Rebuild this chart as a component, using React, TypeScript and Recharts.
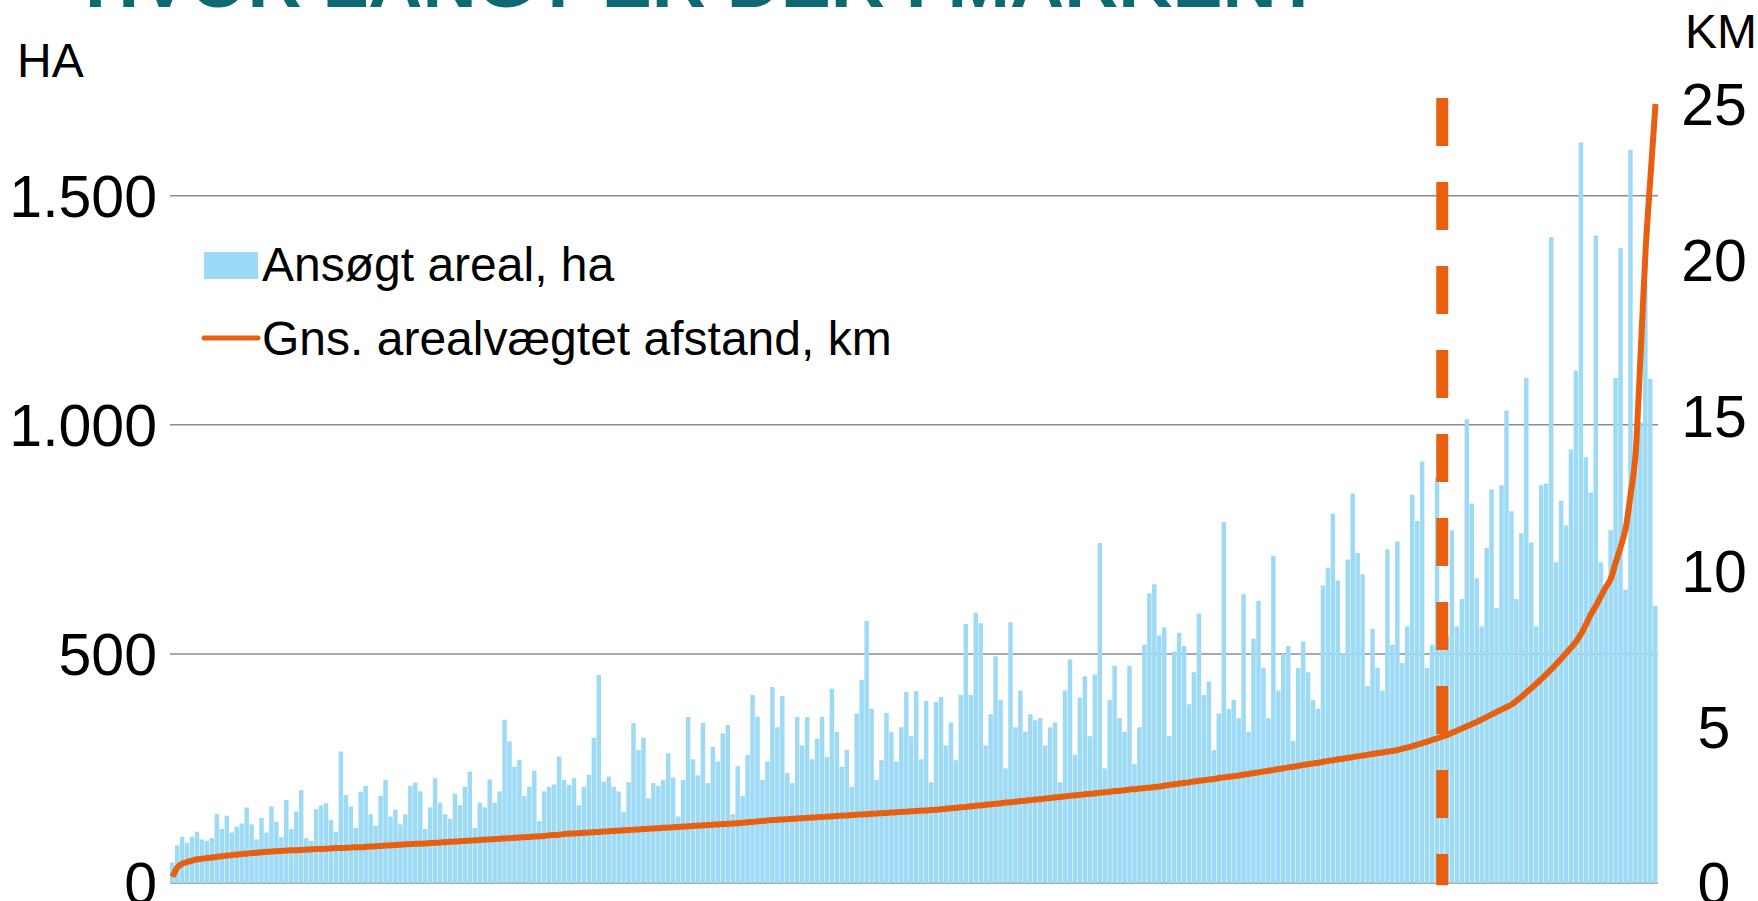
import React from 'react'
import {
  ComposedChart,
  Bar,
  Line,
  XAxis,
  YAxis,
  CartesianGrid,
  ReferenceLine,
  Legend,
} from 'recharts'

// ansøgt areal pr. ansøgning (ha), sorteret efter afstand
const arealHa = [
  45, 82, 101, 88, 101, 112, 95, 92, 98, 151,
  118, 147, 110, 123, 130, 165, 128, 95, 142, 110,
  167, 134, 100, 181, 118, 156, 203, 98, 92, 161,
  169, 174, 138, 112, 287, 192, 167, 120, 199, 212,
  150, 125, 190, 225, 145, 160, 128, 150, 212, 219,
  200, 118, 165, 229, 175, 150, 140, 195, 170, 210,
  243, 120, 175, 165, 226, 175, 200, 356, 309, 254,
  269, 190, 210, 245, 135, 200, 210, 215, 276, 225,
  214, 229, 170, 210, 236, 317, 454, 221, 232, 210,
  200, 155, 220, 349, 290, 317, 185, 218, 212, 225,
  283, 230, 145, 225, 362, 270, 235, 349, 218, 297,
  265, 327, 345, 150, 255, 190, 280, 410, 363, 225,
  265, 428, 340, 408, 240, 218, 362, 300, 362, 270,
  315, 363, 275, 424, 330, 254, 290, 210, 370, 443,
  572, 380, 225, 268, 371, 330, 265, 340, 417, 320,
  419, 270, 397, 220, 395, 406, 300, 350, 268, 410,
  565, 410, 590, 567, 300, 368, 495, 400, 250, 569,
  340, 420, 330, 368, 355, 360, 300, 340, 350, 220,
  420, 488, 280, 405, 451, 320, 455, 742, 250, 400,
  474, 360, 330, 474, 260, 340, 520, 632, 652, 540,
  558, 320, 505, 546, 517, 390, 460, 588, 410, 440,
  290, 370, 788, 380, 400, 360, 630, 330, 533, 616,
  470, 360, 714, 420, 500, 517, 310, 470, 527, 460,
  400, 380, 649, 688, 806, 660, 502, 706, 850, 720,
  674, 430, 555, 470, 420, 728, 520, 745, 480, 560,
  847, 790, 920, 470, 520, 885, 600, 540, 770, 560,
  620, 1012, 828, 665, 560, 731, 859, 600, 868, 1031,
  811, 620, 763, 1102, 743, 560, 868, 872, 1410, 700,
  834, 780, 946, 1118, 1616, 929, 852, 1413, 700, 640,
  770, 1102, 1386, 640, 1600, 900, 1006, 1305, 1100, 605,
]

// gns. arealvægtet afstand (km)
const afstandKm = [
  0.2, 0.5, 0.62, 0.68, 0.72, 0.76, 0.78, 0.8, 0.82, 0.84,
  0.86, 0.88, 0.9, 0.91, 0.93, 0.94, 0.96, 0.97, 0.99, 1.0,
  1.01, 1.02, 1.03, 1.04, 1.05, 1.05, 1.06, 1.07, 1.08, 1.09,
  1.09, 1.1, 1.11, 1.12, 1.12, 1.13, 1.14, 1.15, 1.15, 1.16,
  1.17, 1.18, 1.19, 1.2, 1.21, 1.22, 1.23, 1.24, 1.25, 1.26,
  1.26, 1.27, 1.28, 1.29, 1.3, 1.31, 1.32, 1.33, 1.34, 1.35,
  1.36, 1.37, 1.38, 1.39, 1.4, 1.41, 1.42, 1.43, 1.44, 1.45,
  1.46, 1.47, 1.48, 1.49, 1.5, 1.51, 1.53, 1.54, 1.55, 1.57,
  1.58, 1.59, 1.6, 1.61, 1.62, 1.63, 1.64, 1.65, 1.66, 1.67,
  1.68, 1.69, 1.7, 1.71, 1.72, 1.73, 1.74, 1.75, 1.76, 1.77,
  1.78, 1.79, 1.8, 1.81, 1.82, 1.83, 1.84, 1.85, 1.86, 1.87,
  1.88, 1.89, 1.9, 1.91, 1.92, 1.93, 1.95, 1.96, 1.98, 1.99,
  2.01, 2.02, 2.03, 2.04, 2.05, 2.06, 2.07, 2.08, 2.09, 2.1,
  2.11, 2.12, 2.13, 2.14, 2.15, 2.16, 2.17, 2.18, 2.19, 2.2,
  2.21, 2.22, 2.23, 2.24, 2.25, 2.26, 2.27, 2.28, 2.29, 2.3,
  2.31, 2.32, 2.33, 2.34, 2.35, 2.37, 2.38, 2.4, 2.41, 2.43,
  2.44, 2.46, 2.48, 2.49, 2.51, 2.53, 2.54, 2.56, 2.58, 2.59,
  2.61, 2.63, 2.64, 2.66, 2.68, 2.69, 2.71, 2.73, 2.75, 2.76,
  2.78, 2.8, 2.81, 2.83, 2.85, 2.86, 2.88, 2.9, 2.91, 2.93,
  2.95, 2.96, 2.98, 3.0, 3.01, 3.03, 3.05, 3.06, 3.08, 3.1,
  3.12, 3.15, 3.17, 3.19, 3.21, 3.23, 3.26, 3.28, 3.3, 3.32,
  3.34, 3.37, 3.39, 3.41, 3.43, 3.45, 3.48, 3.5, 3.53, 3.55,
  3.58, 3.6, 3.63, 3.66, 3.68, 3.71, 3.73, 3.76, 3.79, 3.81,
  3.84, 3.86, 3.89, 3.92, 3.94, 3.97, 3.99, 4.02, 4.04, 4.07,
  4.09, 4.12, 4.14, 4.17, 4.19, 4.22, 4.24, 4.27, 4.31, 4.35,
  4.39, 4.44, 4.49, 4.54, 4.59, 4.64, 4.7, 4.75, 4.82, 4.89,
  4.96, 5.03, 5.1, 5.17, 5.25, 5.33, 5.41, 5.49, 5.57, 5.65,
  5.73, 5.85, 5.98, 6.12, 6.26, 6.4, 6.55, 6.7, 6.86, 7.03,
  7.2, 7.38, 7.56, 7.75, 8.0, 8.3, 8.63, 8.9, 9.2, 9.5,
  9.77, 10.3, 10.8, 11.4, 12.5, 13.8, 17.0, 20.3, 22.7, 25,
]

const haTicks = [0, 500, 1000, 1500]
const kmTicks = [0, 5, 10, 15, 20, 25]
const skillelinje = 257 // ansøgning hvor den stiplede linje står

const titel = 'HVOR LANGT ER DER I MARKEN?'
const serieAreal = 'Ansøgt areal, ha'
const serieAfstand = 'Gns. arealvægtet afstand, km'

const BLUE = '#9DDAF5'
const ORANGE = '#E8600F'
const FONT = '"Liberation Sans", Arial, sans-serif'

const data = arealHa.map((ha, i) => ({ nr: i + 1, ha, km: afstandKm[i] }))

const fmtHa = (v: number) => v.toLocaleString('da-DK')

const LeftTick = (props: any) => {
  const { x, y, payload } = props
  return (
    <text x={x} y={y} dy="0.355em" textAnchor="end" fontSize={59} fontFamily={FONT} fill="#000">
      {fmtHa(payload.value)}
    </text>
  )
}

const RightTick = (props: any) => {
  const { x, y, payload } = props
  return (
    <text x={x} y={y} dy="0.355em" textAnchor="middle" fontSize={59} fontFamily={FONT} fill="#000">
      {payload.value}
    </text>
  )
}

const LegendBox = () => (
  <svg width={720} height={150} style={{ overflow: 'visible' }}>
    <rect x={4} y={22} width={54} height={27} fill={BLUE} />
    <text x={62} y={51} fontSize={48} fontFamily={FONT} fill="#000">
      {serieAreal}
    </text>
    <line x1={4} x2={58} y1={108} y2={108} stroke={ORANGE} strokeWidth={5} strokeLinecap="round" />
    <text x={62} y={125} fontSize={48} fontFamily={FONT} fill="#000">
      {serieAfstand}
    </text>
  </svg>
)

export default function App() {
  return (
    <div style={{ position: 'absolute', left: 0, top: 0, width: 1758, height: 901, background: '#fff' }}>
      <ComposedChart
        width={1758}
        height={901}
        data={data}
        margin={{ top: 104, right: 0, bottom: 18, left: 0 }}
        barCategoryGap={0}
        barGap={0}
      >
        <CartesianGrid
          yAxisId="ha"
          vertical={false}
          stroke="#8C8C8C"
          strokeWidth={1.5}
          horizontalValues={haTicks}
        />
        <XAxis dataKey="nr" hide />
        <YAxis
          yAxisId="ha"
          orientation="left"
          width={170}
          domain={[0, 1700]}
          ticks={haTicks}
          axisLine={false}
          tickLine={false}
          tickSize={0}
          tickMargin={13}
          tick={<LeftTick />}
          interval={0}
        />
        <YAxis
          yAxisId="km"
          orientation="right"
          width={100}
          domain={[0, 25]}
          ticks={kmTicks}
          axisLine={false}
          tickLine={false}
          tickSize={0}
          tickMargin={56}
          tick={<RightTick />}
          interval={0}
        />
        <Legend
          layout="vertical"
          align="center"
          verticalAlign="middle"
          wrapperStyle={{ left: 200, top: 230, width: 720 }}
          content={<LegendBox />}
        />
        <Bar
          yAxisId="ha"
          dataKey="ha"
          name={serieAreal}
          fill={BLUE}
          barSize={5}
          isAnimationActive={false}
        />
        <Line
          yAxisId="km"
          dataKey="km"
          name={serieAfstand}
          type="monotone"
          stroke={ORANGE}
          strokeWidth={6}
          dot={false}
          activeDot={false}
          isAnimationActive={false}
        />
        <ReferenceLine
          yAxisId="ha"
          segment={[
            { x: skillelinje, y: 1713 },
            { x: skillelinje, y: -5 },
          ]}
          ifOverflow="visible"
          stroke={ORANGE}
          strokeWidth={12}
          strokeDasharray="48 36"
        />
      </ComposedChart>
      <svg
        width={1758}
        height={901}
        style={{ position: 'absolute', left: 0, top: 0, pointerEvents: 'none' }}
      >
        <text x={85} y={7} fontSize={75} fontWeight="bold" fontFamily={FONT} fill="#0D6A73">
          {titel}
        </text>
        <text x={17} y={77} fontSize={48} fontFamily={FONT} fill="#000">
          HA
        </text>
        <text x={1685} y={48} fontSize={48} fontFamily={FONT} fill="#000">
          KM
        </text>
      </svg>
    </div>
  )
}
